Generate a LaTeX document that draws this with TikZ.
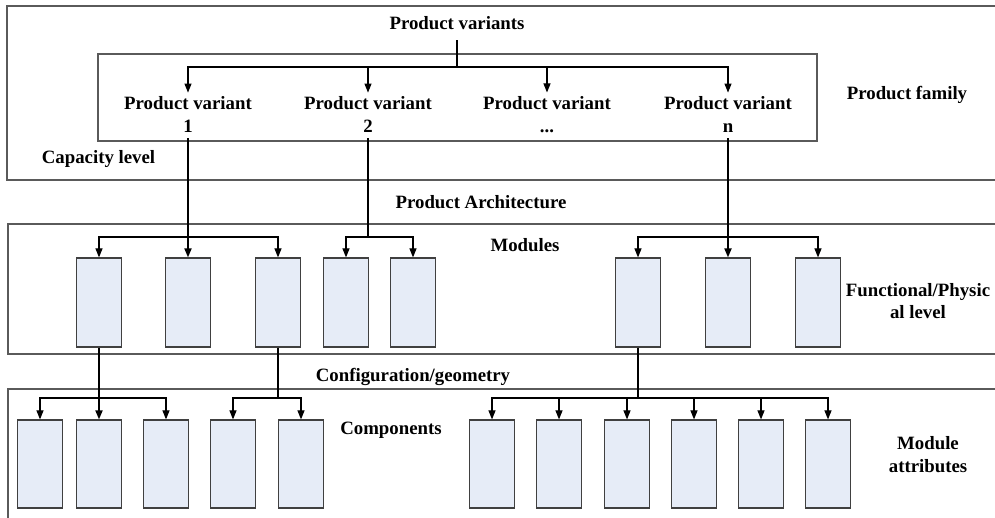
\documentclass[tikz,border=0pt]{standalone}
\usepackage{fontspec}
\setmainfont{Liberation Serif}
\usetikzlibrary{arrows.meta}
\definecolor{frameGray}{HTML}{5A5A5A}
\definecolor{boxFill}{HTML}{E6ECF7}
\definecolor{boxEdge}{HTML}{404040}
\begin{document}
\begin{tikzpicture}[x=1pt,y=-1pt,
  lbl/.style={font=\fontsize{18.8}{22.4}\selectfont\bfseries, inner sep=0pt, align=center},
  frame/.style={draw=frameGray, line width=1.3pt},
  unit/.style={draw=boxEdge, fill=boxFill, line width=1.2pt, minimum width=45pt, minimum height=89pt, inner sep=0pt},
  part/.style={unit, minimum height=88pt},
  link/.style={draw=black, line width=1.1pt},
  arr/.style={link, -{Triangle[length=9pt,width=7pt]}},
  stem/.style={draw=black, line width=1.8pt},
  stemarr/.style={stem, -{Triangle[length=9pt,width=7pt]}}]

\useasboundingbox (0,0) rectangle (995,517);

% level frames, open to the right
\draw[frame] (995,6) -| (7,180) -- (995,180);
\draw[frame] (995,224) -| (8,354) -- (995,354);
\draw[frame] (995,389) -| (8,520);

% product family box
\node[draw=frameGray, line width=1.3pt, minimum width=719pt, minimum height=87pt, inner sep=0pt] (family) at (457.5,97.5) {};

% product variants
\node[lbl, anchor=base] (pv) at (457,29) {Product variants};
\node[lbl] (v1) at (188,114.5) {Product variant\\1};
\node[lbl] (v2) at (368,114.5) {Product variant\\2};
\node[lbl] (v3) at (547,114.5) {Product variant\\...};
\node[lbl] (vn) at (728,114.5) {Product variant\\n};

\coordinate (pvbus) at (457,67);
\draw[link, shorten <=11pt] (pv.south) -- (pvbus);
\foreach \v in {v1,v2,v3,vn}
  \draw[arr, shorten >=4pt] (pvbus) -| (\v.north);

% modules
\foreach \n/\x in {m1/99, m2/188, m3/278, m4/346, m5/413, m6/638, m7/728, m8/818}
  \node[unit] (\n) at (\x,302.5) {};

\coordinate (mb1) at (188,237);
\coordinate (mb2) at (368,237);
\coordinate (mb3) at (728,237);
\draw[stemarr, shorten <=6pt] (v1.south) -- (m2.north);
\draw[arr] (mb1) -| (m1.north);
\draw[arr] (mb1) -| (m3.north);
\draw[stem, shorten <=6pt] (v2.south) -- (mb2);
\draw[arr] (mb2) -| (m4.north);
\draw[arr] (mb2) -| (m5.north);
\draw[stemarr, shorten <=6pt] (vn.south) -- (m7.north);
\draw[arr] (mb3) -| (m6.north);
\draw[arr] (mb3) -| (m8.north);

% components
\foreach \n/\x in {c1/40, c2/99, c3/166, c4/233, c5/301, c6/492, c7/559, c8/627, c9/694, c10/761, c11/828}
  \node[part] (\n) at (\x,464) {};

\coordinate (cb1) at (99,398);
\coordinate (cb2) at (278,398);
\coordinate (cb3) at (638,398);
\draw[stemarr] (m1.south) -- (c2.north);
\draw[arr] (cb1) -| (c1.north);
\draw[arr] (cb1) -| (c3.north);
\draw[stem] (m3.south) -- (cb2);
\draw[arr] (cb2) -| (c4.north);
\draw[arr] (cb2) -| (c5.north);
\draw[stem] (m6.south) -- (cb3);
\foreach \c in {c6,c7,c8,c9,c10,c11}
  \draw[arr] (cb3) -| (\c.north);

% level labels
\node[lbl, anchor=base] (lfamily) at (907,99.3) {Product family};
\node[lbl, anchor=base] (lcap) at (98.5,163) {Capacity level};
\node[lbl, anchor=base] (larch) at (481,208) {Product Architecture};
\node[lbl, anchor=base] (lmod) at (525,251) {Modules};
\node[lbl] (lfunc) at (918,301) {Functional/Physic\\al level};
\node[lbl, anchor=base] (lconf) at (413,381) {Configuration/geometry};
\node[lbl, anchor=base] (lcomp) at (391,434) {Components};
\node[lbl] (lattr) at (928,454.5) {Module\\attributes};
\end{tikzpicture}
\end{document}
